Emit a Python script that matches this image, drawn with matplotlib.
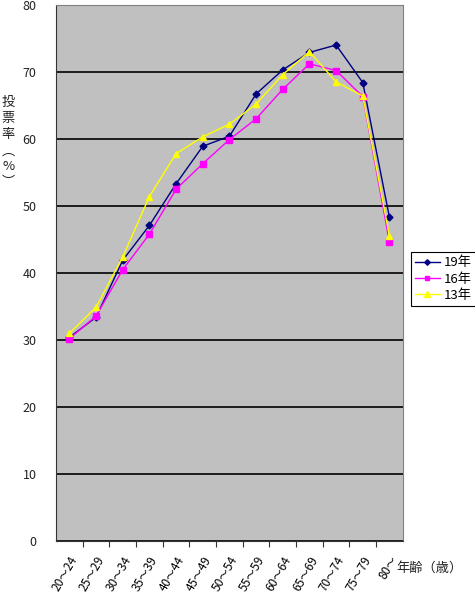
import matplotlib
matplotlib.use("Agg")
import matplotlib.pyplot as plt

plt.rcParams['font.family'] = ['Noto Sans CJK JP', 'DejaVu Sans']

ages = ['20～24', '25～29', '30～34', '35～39', '40～44', '45～49', '50～54',
        '55～59', '60～64', '65～69', '70～74', '75～79', '80～']
h19 = [30.4, 33.4, 41.9, 47.1, 53.3, 58.9, 60.4, 66.7, 70.3, 72.9, 74.0, 68.4, 48.3]
h16 = [30.2, 33.6, 40.5, 45.8, 52.5, 56.3, 59.9, 63.0, 67.4, 71.2, 70.2, 66.3, 44.6]
h13 = [31.0, 34.9, 42.4, 51.4, 57.8, 60.3, 62.2, 65.2, 69.6, 73.0, 68.5, 66.4, 45.5]
yticks = [0, 10, 20, 30, 40, 50, 60, 70, 80]

fig = plt.figure(figsize=(4.75, 6), dpi=100)
ax = fig.add_axes([0.118, 0.098, 0.73, 0.894])
ax.set_facecolor('#c0c0c0')

x = range(len(ages))
ax.plot(x, h19, color='#000080', marker='D', markersize=3.5, lw=1, label='19年')
ax.plot(x, h16, color='#ff00ff', marker='s', markersize=4, lw=1, label='16年')
ax.plot(x, h13, color='#ffff00', marker='^', markersize=5, lw=1, label='13年')

ax.set_xlim(-0.5, len(ages) - 0.5)
ax.set_ylim(0, 80)
ax.set_yticks(yticks)
ax.set_yticklabels([str(v) for v in yticks], fontsize=9, color='#222222')
ax.yaxis.grid(True, color='black', lw=1.2)
ax.set_axisbelow(True)
ax.tick_params(axis='y', length=0, pad=14)

# category boundaries get the tick marks, labels sit at category centres
ax.set_xticks([i + 0.5 for i in range(len(ages) - 1)])
ax.set_xticklabels([])
ax.set_xticks(list(x), minor=True)
ax.set_xticklabels(ages, minor=True, rotation=60, ha='right', rotation_mode='anchor',
                   fontsize=8.5)
ax.tick_params(axis='x', which='major', length=4, color='#333333', direction='out')
ax.tick_params(axis='x', which='minor', length=0, pad=9)

for s in ['top', 'right']:
    ax.spines[s].set_color('#808080')
ax.spines['left'].set_color('#333333')
ax.spines['bottom'].set_color('#333333')

fig.text(0.017, 0.762, '投\n票\n率\n︵\n%\n︶', fontsize=9.5, ha='center', va='center',
         linespacing=1.3, color='#222222')
fig.text(0.835, 0.053, '年齢（歳）', fontsize=9.5, ha='left', va='center', color='#222222')

leg = ax.legend(loc='center left', bbox_to_anchor=(0.865, 0.535), bbox_transform=fig.transFigure,
                fancybox=False, edgecolor='black', framealpha=1, fontsize=9.5,
                handlelength=1.9, borderpad=0.3, labelspacing=0.25, handletextpad=0.3,
                borderaxespad=0, markerscale=0.8)
leg.get_frame().set_linewidth(0.8)

fig.savefig('out.png', dpi=100, facecolor='white')
